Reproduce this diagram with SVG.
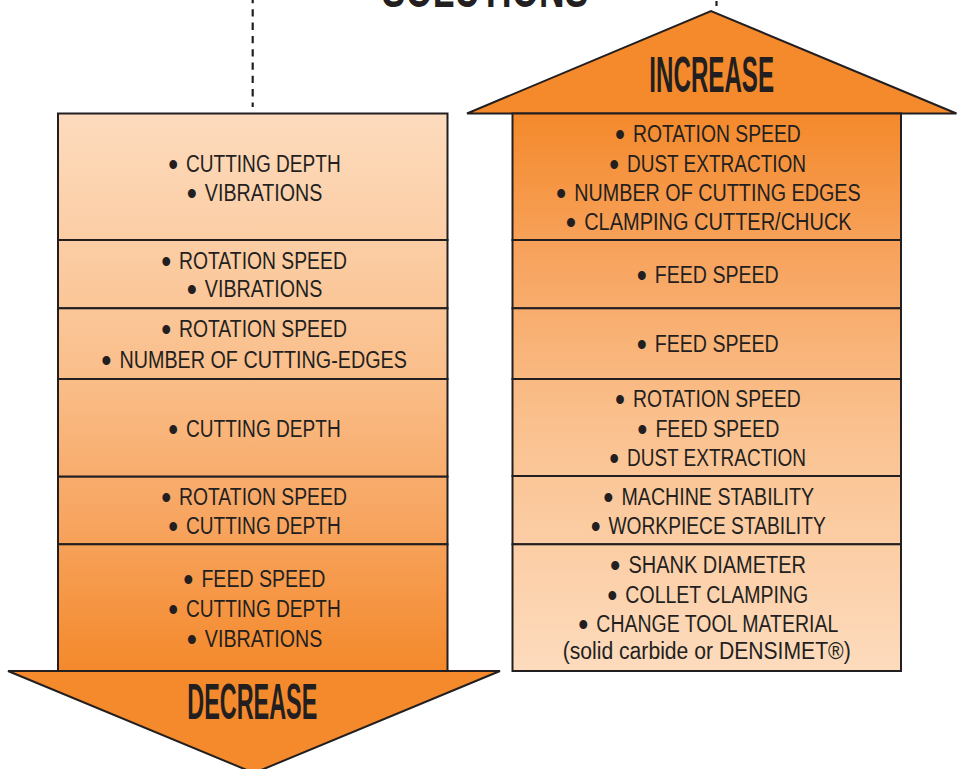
<svg xmlns="http://www.w3.org/2000/svg" width="963" height="769" viewBox="0 0 963 769">
<defs>
<linearGradient id="gDown" gradientUnits="userSpaceOnUse" x1="0" y1="113" x2="0" y2="671">
<stop offset="0" stop-color="#FDDBBD"/>
<stop offset="0.45" stop-color="#FAC08D"/>
<stop offset="0.75" stop-color="#F7A35D"/>
<stop offset="1" stop-color="#F4892B"/>
</linearGradient>
<linearGradient id="gUp" gradientUnits="userSpaceOnUse" x1="0" y1="671" x2="0" y2="113">
<stop offset="0" stop-color="#FDDBBD"/>
<stop offset="0.45" stop-color="#FAC08D"/>
<stop offset="0.75" stop-color="#F7A35D"/>
<stop offset="1" stop-color="#F4892B"/>
</linearGradient>
<style>
.box{stroke:#231F20;stroke-width:2}
.L{fill:url(#gDown)}
.R{fill:url(#gUp)}
.t{font-family:"Liberation Sans Narrow","Liberation Sans",Arial,sans-serif;font-size:23px;fill:#231F20;text-anchor:middle}
.b{font-size:34px}
.arrow{fill:#F58A2C;stroke:#231F20;stroke-width:2;stroke-linejoin:miter}
.title{font-family:"Liberation Sans Narrow","Liberation Sans",Arial,sans-serif;font-weight:bold;font-size:50px;fill:#231F20;text-anchor:middle}
.dash{stroke:#231F20;stroke-width:2.2;fill:none}
</style>
</defs>
<rect width="963" height="769" fill="#FFFFFF"/>

<text class="title" x="485" y="6.5" textLength="206.6" lengthAdjust="spacingAndGlyphs">SOLUTIONS</text>

<g id="connectors">
<line class="dash" x1="252.7" y1="-4" x2="252.7" y2="107" stroke-dasharray="7.3,6"/>
<line class="dash" x1="716.5" y1="1" x2="716.5" y2="6"/>
</g>

<g id="arrow-increase">
<polygon class="arrow" points="467,113.5 711,11 956.5,113.5"/>
<text class="title" x="711.7" y="91.7" textLength="124.7" lengthAdjust="spacingAndGlyphs">INCREASE</text>
</g>

<g id="left-1">
<rect class="box L" x="58" y="113.5" width="389.5" height="126.5"/>
<text class="t" x="254.5" y="171.7" textLength="172.4" lengthAdjust="spacingAndGlyphs"><tspan class="b" dy="4">•</tspan><tspan dy="-4" dx="3"> CUTTING DEPTH</tspan></text>
<text class="t" x="254.5" y="200.7" textLength="135.6" lengthAdjust="spacingAndGlyphs"><tspan class="b" dy="4">•</tspan><tspan dy="-4" dx="3"> VIBRATIONS</tspan></text>
</g>
<g id="left-2">
<rect class="box L" x="58" y="240" width="389.5" height="68.3"/>
<text class="t" x="254" y="269" textLength="185.7" lengthAdjust="spacingAndGlyphs"><tspan class="b" dy="4">•</tspan><tspan dy="-4" dx="3"> ROTATION SPEED</tspan></text>
<text class="t" x="254.5" y="297.3" textLength="135.6" lengthAdjust="spacingAndGlyphs"><tspan class="b" dy="4">•</tspan><tspan dy="-4" dx="3"> VIBRATIONS</tspan></text>
</g>
<g id="left-3">
<rect class="box L" x="58" y="308.3" width="389.5" height="70.7"/>
<text class="t" x="254" y="337.3" textLength="185.7" lengthAdjust="spacingAndGlyphs"><tspan class="b" dy="4">•</tspan><tspan dy="-4" dx="3"> ROTATION SPEED</tspan></text>
<text class="t" x="254" y="367.7" textLength="305.7" lengthAdjust="spacingAndGlyphs"><tspan class="b" dy="4">•</tspan><tspan dy="-4" dx="3"> NUMBER OF CUTTING-EDGES</tspan></text>
</g>
<g id="left-4">
<rect class="box L" x="58" y="379" width="389.5" height="97.7"/>
<text class="t" x="254.5" y="436.7" textLength="172.4" lengthAdjust="spacingAndGlyphs"><tspan class="b" dy="4">•</tspan><tspan dy="-4" dx="3"> CUTTING DEPTH</tspan></text>
</g>
<g id="left-5">
<rect class="box L" x="58" y="476.7" width="389.5" height="67.6"/>
<text class="t" x="254" y="505" textLength="185.7" lengthAdjust="spacingAndGlyphs"><tspan class="b" dy="4">•</tspan><tspan dy="-4" dx="3"> ROTATION SPEED</tspan></text>
<text class="t" x="254.5" y="534.3" textLength="172.4" lengthAdjust="spacingAndGlyphs"><tspan class="b" dy="4">•</tspan><tspan dy="-4" dx="3"> CUTTING DEPTH</tspan></text>
</g>
<g id="left-6">
<rect class="box L" x="58" y="544.3" width="389.5" height="126.7"/>
<text class="t" x="254.3" y="587.3" textLength="142" lengthAdjust="spacingAndGlyphs"><tspan class="b" dy="4">•</tspan><tspan dy="-4" dx="3"> FEED SPEED</tspan></text>
<text class="t" x="254.5" y="616.7" textLength="172.4" lengthAdjust="spacingAndGlyphs"><tspan class="b" dy="4">•</tspan><tspan dy="-4" dx="3"> CUTTING DEPTH</tspan></text>
<text class="t" x="254.5" y="646.7" textLength="135.6" lengthAdjust="spacingAndGlyphs"><tspan class="b" dy="4">•</tspan><tspan dy="-4" dx="3"> VIBRATIONS</tspan></text>
</g>

<g id="right-1">
<rect class="box R" x="512.5" y="113.5" width="388.5" height="126.5"/>
<text class="t" x="707.9" y="141.7" textLength="185.7" lengthAdjust="spacingAndGlyphs"><tspan class="b" dy="4">•</tspan><tspan dy="-4" dx="3"> ROTATION SPEED</tspan></text>
<text class="t" x="707.7" y="171.7" textLength="196.7" lengthAdjust="spacingAndGlyphs"><tspan class="b" dy="4">•</tspan><tspan dy="-4" dx="3"> DUST EXTRACTION</tspan></text>
<text class="t" x="708.3" y="200.7" textLength="304.7" lengthAdjust="spacingAndGlyphs"><tspan class="b" dy="4">•</tspan><tspan dy="-4" dx="3"> NUMBER OF CUTTING EDGES</tspan></text>
<text class="t" x="708.7" y="230" textLength="286" lengthAdjust="spacingAndGlyphs"><tspan class="b" dy="4">•</tspan><tspan dy="-4" dx="3"> CLAMPING CUTTER/CHUCK</tspan></text>
</g>
<g id="right-2">
<rect class="box R" x="512.5" y="240" width="388.5" height="68.3"/>
<text class="t" x="707.7" y="283.3" textLength="142" lengthAdjust="spacingAndGlyphs"><tspan class="b" dy="4">•</tspan><tspan dy="-4" dx="3"> FEED SPEED</tspan></text>
</g>
<g id="right-3">
<rect class="box R" x="512.5" y="308.3" width="388.5" height="70.7"/>
<text class="t" x="707.7" y="352.3" textLength="142" lengthAdjust="spacingAndGlyphs"><tspan class="b" dy="4">•</tspan><tspan dy="-4" dx="3"> FEED SPEED</tspan></text>
</g>
<g id="right-4">
<rect class="box R" x="512.5" y="379" width="388.5" height="97"/>
<text class="t" x="707.9" y="407.3" textLength="185.7" lengthAdjust="spacingAndGlyphs"><tspan class="b" dy="4">•</tspan><tspan dy="-4" dx="3"> ROTATION SPEED</tspan></text>
<text class="t" x="708.3" y="436.7" textLength="142" lengthAdjust="spacingAndGlyphs"><tspan class="b" dy="4">•</tspan><tspan dy="-4" dx="3"> FEED SPEED</tspan></text>
<text class="t" x="707.7" y="466" textLength="196.7" lengthAdjust="spacingAndGlyphs"><tspan class="b" dy="4">•</tspan><tspan dy="-4" dx="3"> DUST EXTRACTION</tspan></text>
</g>
<g id="right-5">
<rect class="box R" x="512.5" y="476" width="388.5" height="68.3"/>
<text class="t" x="708.7" y="505" textLength="210.7" lengthAdjust="spacingAndGlyphs"><tspan class="b" dy="4">•</tspan><tspan dy="-4" dx="3"> MACHINE STABILITY</tspan></text>
<text class="t" x="708.2" y="534.3" textLength="235" lengthAdjust="spacingAndGlyphs"><tspan class="b" dy="4">•</tspan><tspan dy="-4" dx="3"> WORKPIECE STABILITY</tspan></text>
</g>
<g id="right-6">
<rect class="box R" x="512.5" y="544.3" width="388.5" height="126.7"/>
<text class="t" x="708" y="573.3" textLength="196" lengthAdjust="spacingAndGlyphs"><tspan class="b" dy="4">•</tspan><tspan dy="-4" dx="3"> SHANK DIAMETER</tspan></text>
<text class="t" x="707.8" y="602.7" textLength="201" lengthAdjust="spacingAndGlyphs"><tspan class="b" dy="4">•</tspan><tspan dy="-4" dx="3"> COLLET CLAMPING</tspan></text>
<text class="t" x="708.3" y="631.7" textLength="260" lengthAdjust="spacingAndGlyphs"><tspan class="b" dy="4">•</tspan><tspan dy="-4" dx="3"> CHANGE TOOL MATERIAL</tspan></text>
<text class="t" x="706.7" y="659" textLength="288" lengthAdjust="spacingAndGlyphs">(solid carbide or DENSIMET®)</text>
</g>

<g id="arrow-decrease">
<polygon class="arrow" points="8,671 500,671 254,773"/>
<text class="title" x="252.3" y="719" textLength="130" lengthAdjust="spacingAndGlyphs">DECREASE</text>
</g>
</svg>
